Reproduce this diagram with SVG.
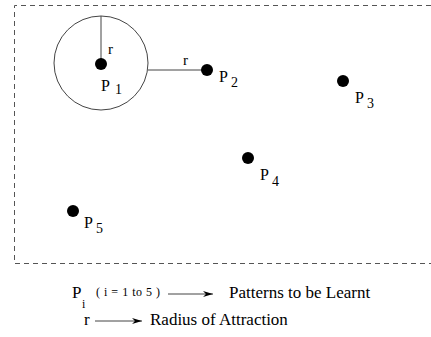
<svg xmlns="http://www.w3.org/2000/svg" width="431" height="337" viewBox="0 0 431 337">
<defs>
<style>
.t{font-family:"Liberation Serif","Times New Roman",serif;fill:#000}
.lab{font-size:17px}
.pl{font-size:16px}
.sub{font-size:14px}
.rl{font-size:15px}
.sm{font-size:12px}
.si{font-size:12px}
.dot{fill:#000}
.ln{stroke:#444;stroke-width:1;fill:none}
.brd{stroke:#555;stroke-width:1;fill:none;stroke-dasharray:5 4}
</style>
<marker id="ah" viewBox="0 0 10 6" refX="10" refY="3" markerWidth="10" markerHeight="6" markerUnits="userSpaceOnUse" orient="auto">
<path d="M0,0 L10,3 L0,6 L3,3 Z" fill="#000"/>
</marker>
</defs>
<rect width="431" height="337" fill="#fff"/>
<g id="border">
<path class="brd" d="M431,5.5 H14.5 V263.5 H431"/>
</g>
<g id="connectors">
<circle class="ln" cx="101" cy="63" r="47"/>
<line class="ln" x1="101" y1="16" x2="101" y2="63"/>
<line class="ln" x1="148" y1="70" x2="207" y2="70"/>
<text class="t rl" x="108" y="54">r</text>
<text class="t rl" x="183" y="65">r</text>
</g>
<g id="P1">
<circle class="dot" cx="101" cy="64" r="6"/>
<text class="t pl" x="101" y="91">P</text><text class="t sub" x="115" y="94">1</text>
</g>
<g id="P2">
<circle class="dot" cx="207" cy="70" r="6"/>
<text class="t pl" x="219" y="82">P</text><text class="t sub" x="231" y="87">2</text>
</g>
<g id="P3">
<circle class="dot" cx="343" cy="81" r="6"/>
<text class="t pl" x="355" y="103">P</text><text class="t sub" x="367" y="108">3</text>
</g>
<g id="P4">
<circle class="dot" cx="248" cy="158" r="6"/>
<text class="t pl" x="260" y="180">P</text><text class="t sub" x="272" y="186">4</text>
</g>
<g id="P5">
<circle class="dot" cx="73" cy="211" r="6"/>
<text class="t pl" x="84" y="228">P</text><text class="t sub" x="96" y="233">5</text>
</g>
<g id="legend">
<text class="t lab" x="72" y="298">P</text>
<text class="t si" x="82" y="308">i</text>
<text class="t sm" x="96" y="296" textLength="64" lengthAdjust="spacing">( i = 1 to 5 )</text>
<line class="ln" x1="168" y1="294" x2="213" y2="294" marker-end="url(#ah)"/>
<text class="t lab" x="229" y="298">Patterns to be Learnt</text>
<text class="t lab" x="84" y="325">r</text>
<line class="ln" x1="95" y1="321" x2="142" y2="321" marker-end="url(#ah)"/>
<text class="t lab" x="150" y="325">Radius of Attraction</text>
</g>
</svg>
